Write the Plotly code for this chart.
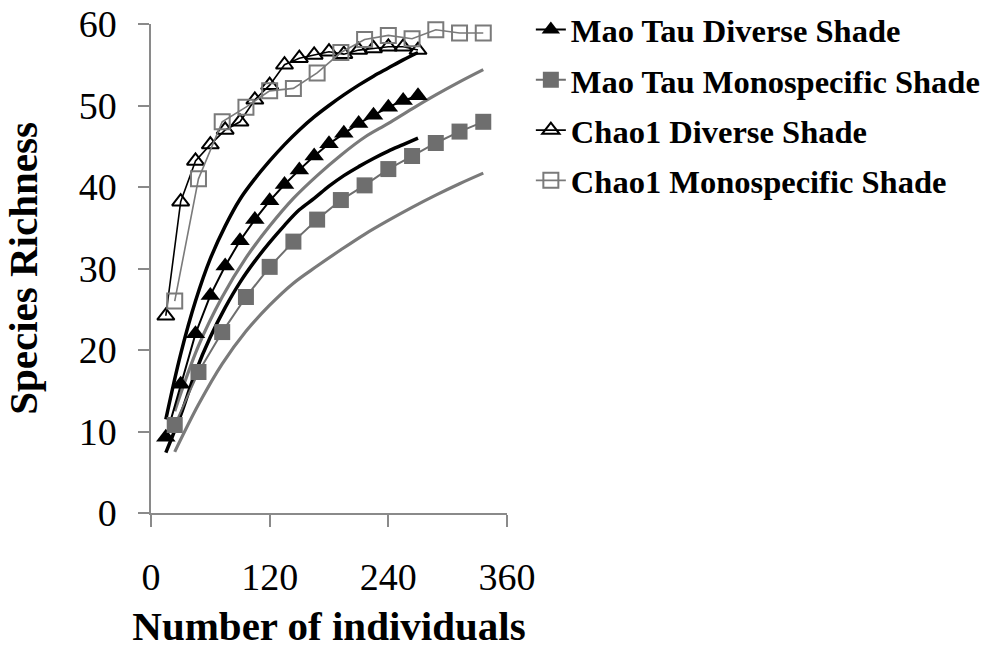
import plotly.graph_objects as go

# ---- data ----
x_div = [15, 30, 45, 60, 75, 90, 105, 120, 135, 150, 165, 180, 195, 210, 225, 240, 255, 270]
mao_div = [9.3, 15.8, 22.0, 26.7, 30.3, 33.4, 36.0, 38.3, 40.3, 42.1, 43.8, 45.3, 46.6, 47.8, 48.8, 49.8, 50.6, 51.2]
chao_div = [24.2, 38.2, 43.2, 45.2, 47.0, 48.0, 50.7, 52.5, 55.0, 55.8, 56.2, 56.6, 56.3, 56.8, 57.0, 57.2, 57.2, 56.8]
upper_div = [11.5, 19.5, 26.0, 31.2, 35.2, 38.5, 41.0, 43.2, 45.2, 47.0, 48.6, 50.0, 51.3, 52.5, 53.6, 54.6, 55.6, 56.5]
lower_div = [7.4, 12.0, 17.3, 21.6, 25.2, 28.3, 30.9, 33.2, 35.3, 37.2, 38.6, 40.1, 41.4, 42.5, 43.5, 44.4, 45.2, 46.0]

x_mono = [24, 48, 72, 96, 120, 144, 168, 192, 216, 240, 264, 288, 312, 336]
mao_mono = [10.8, 17.3, 22.2, 26.5, 30.2, 33.3, 36.0, 38.4, 40.2, 42.2, 43.8, 45.4, 46.8, 48.0]
chao_mono = [26.0, 41.0, 48.0, 49.8, 51.8, 52.1, 54.0, 56.5, 58.1, 58.6, 58.2, 59.3, 58.9, 58.9]
upper_mono = [12.5, 20.5, 26.5, 31.3, 35.2, 38.6, 41.4, 43.9, 46.1, 47.8, 49.6, 51.3, 52.9, 54.4]
lower_mono = [7.5, 13.3, 18.3, 22.3, 25.5, 28.2, 30.3, 32.3, 34.2, 35.9, 37.5, 39.0, 40.4, 41.7]

x_ticks = [0, 120, 240, 360]
y_ticks = [0, 10, 20, 30, 40, 50, 60]

names = ["Mao Tau Diverse Shade", "Mao Tau Monospecific Shade",
         "Chao1 Diverse Shade", "Chao1 Monospecific Shade"]

BLACK = "#000000"
GRAY = "#7a7a7a"
GRAY_FILL = "#6e6e6e"
AXIS = "#8a8a8a"
FONT = "Liberation Serif, Times New Roman, serif"

fig = go.Figure()

# confidence-interval curves (no legend)
for xs, ys, col, w in [(x_div, upper_div, BLACK, 3.5), (x_div, lower_div, BLACK, 3.5),
                       (x_mono, upper_mono, GRAY, 3.2), (x_mono, lower_mono, GRAY, 3.2)]:
    fig.add_trace(go.Scatter(x=xs, y=ys, mode="lines", line=dict(color=col, width=w, shape="spline"),
                             showlegend=False, hoverinfo="skip"))

fig.add_trace(go.Scatter(x=x_div, y=mao_div, mode="lines+markers", name=names[0], legendgroup="a",
                         line=dict(color=BLACK, width=2),
                         marker=dict(symbol="triangle-up", size=17, color=BLACK), cliponaxis=False))
fig.add_trace(go.Scatter(x=x_mono, y=mao_mono, mode="lines+markers", name=names[1], legendgroup="b",
                         line=dict(color=GRAY_FILL, width=2),
                         marker=dict(symbol="square", size=16, color=GRAY_FILL), cliponaxis=False))
fig.add_trace(go.Scatter(x=x_div, y=chao_div, mode="lines+markers", name=names[2], legendgroup="c",
                         line=dict(color=BLACK, width=1.6),
                         marker=dict(symbol="triangle-up-open", size=15, color=BLACK, line=dict(width=2)),
                         cliponaxis=False))
fig.add_trace(go.Scatter(x=x_mono, y=chao_mono, mode="lines+markers", name=names[3], legendgroup="d",
                         line=dict(color=GRAY, width=1.6),
                         marker=dict(symbol="square-open", size=15, color=GRAY, line=dict(width=2)),
                         cliponaxis=False))

fig.update_layout(
    width=987, height=658,
    margin=dict(l=151, r=480, t=24, b=145, autoexpand=False),
    paper_bgcolor="white", plot_bgcolor="white",
    font=dict(family=FONT, color="black"),
    showlegend=True,
    legend=dict(x=1.067, y=1.045, xanchor="left", yanchor="top",
                font=dict(family=FONT, size=32.5, weight="bold", color="black"),
                tracegroupgap=5, bgcolor="rgba(0,0,0,0)"),
    xaxis=dict(range=[0, 360], tickvals=x_ticks, ticktext=[str(v) for v in x_ticks],
               showgrid=False, zeroline=False, showline=True, linecolor=AXIS, linewidth=1.5,
               ticks="outside", ticklen=12, tickcolor=AXIS, tickwidth=1.5,
               tickfont=dict(family=FONT, size=38, color="black"), ticklabelstandoff=18,
               title=dict(text="Number of individuals", standoff=14,
                          font=dict(family=FONT, size=41, weight="bold", color="black")),
               automargin=False),
    yaxis=dict(range=[0, 60], tickvals=y_ticks, ticktext=[str(v) for v in y_ticks],
               showgrid=False, zeroline=False, showline=True, linecolor=AXIS, linewidth=1.5,
               ticks="outside", ticklen=11, tickcolor=AXIS, tickwidth=1.5,
               tickfont=dict(family=FONT, size=38, color="black"), ticklabelstandoff=14,
               title=dict(text="Species Richness", standoff=30,
                          font=dict(family=FONT, size=41, weight="bold", color="black")),
               automargin=False),
)

fig.write_html("out.html")
